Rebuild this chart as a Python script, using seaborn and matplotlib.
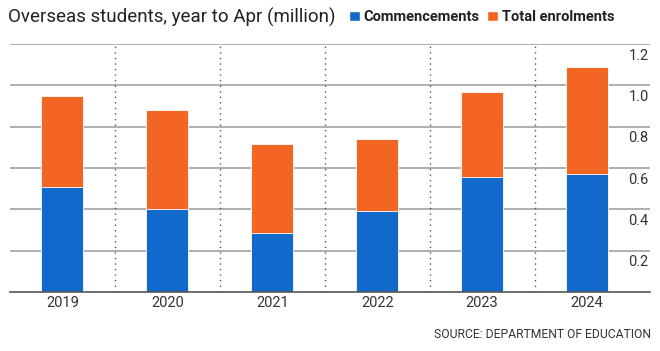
import numpy as np
import pandas as pd
import seaborn as sns
import matplotlib.pyplot as plt
from matplotlib.patches import Patch
import matplotlib.transforms as mtransforms

sns.set_theme(style="white")
plt.rcParams["font.family"] = ["Roboto", "DejaVu Sans"]

# data (million)
years = ["2019", "2020", "2021", "2022", "2023", "2024"]
total_enrolments = [0.95, 0.88, 0.715, 0.74, 0.97, 1.09]
commencements = [0.51, 0.40, 0.285, 0.39, 0.555, 0.57]
yticks = [0.2, 0.4, 0.6, 0.8, 1.0, 1.2]

blue = "#1169CC"
orange = "#F26522"
txt = "#333333"

df = pd.DataFrame({"year": years, "total": total_enrolments, "comm": commencements})

fig = plt.figure(figsize=(6.6, 3.51), dpi=100)
ax = fig.add_axes([10 / 660, 1 - 292 / 351, 640 / 660, 248 / 351])

# gridlines behind the bars
for t in yticks:
    ax.axhline(t, color="#9a9a9a", lw=1.1, zorder=0)

sns.barplot(data=df, x="year", y="total", color=orange, width=0.4,
            edgecolor="white", linewidth=0.6, saturation=1, ax=ax, zorder=2)
sns.barplot(data=df, x="year", y="comm", color=blue, width=0.4,
            edgecolor="white", linewidth=0.6, saturation=1, ax=ax, zorder=3)

ax.set_xlim(-0.5, 5.6)
ax.set_ylim(0, 1.2)

# dotted separators between years
for i in range(len(years) - 1):
    ax.axvline(i + 0.5, color="#555555", lw=1, ls=(0, (1, 3)), zorder=1)

# y labels inside, right side, under each gridline
trans = mtransforms.blended_transform_factory(ax.transAxes, ax.transData)
for t in yticks:
    ax.text(0.998, t - 0.022, f"{t:.1f}", transform=trans, ha="right", va="top",
            fontsize=10.5, color=txt)

ax.set_yticks([])
ax.set_xlabel("")
ax.set_ylabel("")
ax.tick_params(axis="x", length=0, pad=3, labelsize=10.5, labelcolor=txt)
for s in ["top", "left", "right"]:
    ax.spines[s].set_visible(False)
ax.spines["bottom"].set_color("#555555")
ax.spines["bottom"].set_linewidth(1.2)
ax.spines["bottom"].set_zorder(4)

fig.text(8 / 660, 1 - 17 / 351, "Overseas students, year to Apr (million)",
         fontsize=13.5, color="#222222", va="center", ha="left")

handles = [Patch(facecolor=blue), Patch(facecolor=orange)]
fig.legend(handles, ["Commencements", "Total enrolments"], ncol=2,
           loc="center left", bbox_to_anchor=(349 / 660, 1 - 17 / 351),
           frameon=False, handlelength=0.75, handleheight=0.75,
           handletextpad=0.25, columnspacing=0.5, borderaxespad=0,
           borderpad=0, prop={"weight": "bold", "size": 10.5},
           labelcolor="#222222")

fig.text(651 / 660, 1 - 335 / 351, "SOURCE: DEPARTMENT OF EDUCATION",
         fontsize=8.7, color=txt, ha="right", va="center")

plt.savefig("out.png", dpi=100)
